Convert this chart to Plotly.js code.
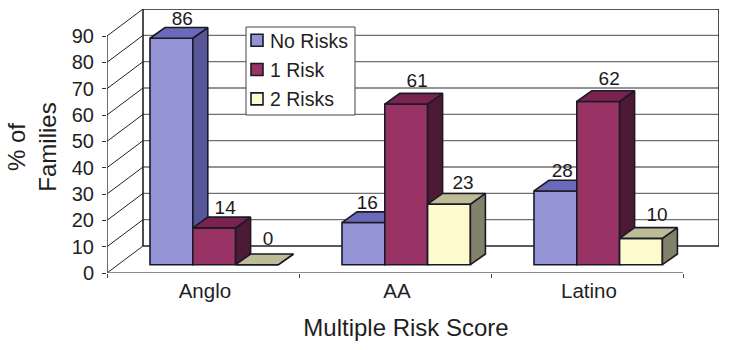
<!DOCTYPE html>
<html><head><meta charset="utf-8">
<script src="https://cdn.plot.ly/plotly-3.0.1.min.js"></script>
<style>html,body{margin:0;padding:0;background:#fff}</style></head>
<body><div id="chart" style="width:729px;height:350px"></div>
<script>
const categories = ['Anglo', 'AA', 'Latino'];
const seriesNames = ['No Risks', '1 Risk', '2 Risks'];
const noRisks = [86, 16, 28];
const oneRisk = [14, 61, 62];
const twoRisks = [0, 23, 10];
const yTicks = [0, 10, 20, 30, 40, 50, 60, 70, 80, 90];
const frontColors = ['#9393d6', '#993366', '#fdfbcd'];
const topColors = ['#6a6ab8', '#7a2350', '#bebc96'];
const sideColors = ['#58569a', '#4e1934', '#82826a'];
// pixel nudges for the value labels, by series then category
const labelNudgeX = [[0, -7, -4], [0, 0, 0], [0, 3, 5]];
const labelNudgeY = [[2, 2, 1], [2, -2, -1], [-4, 0, -2]];

const allSeries = [noRisks, oneRisk, twoRisks];
const pxX = 192, pxY = 237 / 90;                 // pixels per axis unit
const XMAX = 598 / pxX, YMAX = 252 / pxY;        // tick/bar axes
const XWALL = 612 / pxX, YWALL = 264 / pxY;      // wall axes
const wallDx = 36 / pxX, wallDy = 27 / pxY;
const barW = 42.8 / pxX, firstBar = 43 / pxX, floorLift = 8.3 / pxY;
const depthX = 15 / pxX, depthY = 10.7 / pxY;
const edge = '#1a1a26';

const traces = [];
function line(xs, ys, color, width, xa, ya) {
  traces.push({type:'scatter', mode:'lines', x:xs, y:ys, xaxis:xa || 'x', yaxis:ya || 'y', line:{color, width}, showlegend:false, hoverinfo:'skip', cliponaxis:false});
}
const n = categories.length;
yTicks.slice(1, -1).forEach(v => line([wallDx, n + wallDx], [v + wallDy, v + wallDy], '#707070', 1.4));
line([wallDx, n + wallDx], [wallDy, wallDy], '#222222', 1.4);
line([wallDx, wallDx, n + wallDx, n + wallDx], [wallDy, 90 + wallDy, 90 + wallDy, wallDy], '#222222', 1.6);
yTicks.forEach(v => line([0, wallDx], [v, v + wallDy], '#222222', 1));
line([0, 0], [0, 90], '#222222', 1.3, 'x2', 'y2');
line([0, n], [0, 0], '#666666', 1.4, 'x2', 'y2');

allSeries.forEach((vals, s) => {
  const xa = 'x' + (s + 3), ya = 'y' + (s + 3);
  const xs = vals.map((_, i) => i + firstBar + s * barW);
  traces.push({type:'bar', name:seriesNames[s], legendgroup:seriesNames[s], x:xs, y:vals,
    base:vals.map(() => floorLift), width:barW, offset:0, xaxis:xa, yaxis:ya,
    marker:{color:frontColors[s], line:{color:edge, width:1.6}}, hoverinfo:'skip'});
  vals.forEach((v, i) => {
    const L = xs[i], R = L + barW, B = floorLift, T = B + v;
    const face = (px, py, c) => traces.push({type:'scatter', mode:'lines', x:px, y:py, fill:'toself', fillcolor:c,
      line:{color:edge, width:1.6}, xaxis:xa, yaxis:ya, showlegend:false, hoverinfo:'skip'});
    face([R, R + depthX, R + depthX, R, R], [B, B + depthY, T + depthY, T, B], sideColors[s]);
    face([L, R, R + depthX, L + depthX, L], [T, T, T + depthY, T + depthY, T], topColors[s]);
  });
});
allSeries.forEach((vals, s) => {
  traces.push({type:'scatter', mode:'text', xaxis:'x5', yaxis:'y5', cliponaxis:false,
    x:vals.map((_, i) => i + firstBar + (s + 0.5) * barW + depthX * 0.73 + labelNudgeX[s][i] / pxX),
    y:vals.map((v, i) => floorLift + v + depthY - labelNudgeY[s][i] / pxY),
    text:vals.map(String), textposition:'top center',
    textfont:{family:'Liberation Sans', size:19, color:'#1a1a1a'}, showlegend:false, hoverinfo:'skip'});
});

const layout = {
  width:729, height:350, margin:{l:107, r:10, t:9, b:77},
  paper_bgcolor:'#fff', plot_bgcolor:'rgba(0,0,0,0)', barmode:'overlay',
  font:{family:'Liberation Sans', color:'#1f1f1f'},
  showlegend:true,
  legend:{x:138 / 612, y:252 / 264, xanchor:'left', yanchor:'top', bgcolor:'rgba(0,0,0,0)', borderwidth:0,
    font:{size:19.5, color:'#1f1f1f'}, traceorder:'grouped', tracegroupgap:1, indentation:-15, itemclick:false, itemdoubleclick:false},
  shapes:[{type:'rect', layer:'above', xref:'paper', yref:'paper', x0:139 / 612, x1:248 / 612, y0:158 / 264, y1:246 / 264,
    fillcolor:'#fff', line:{color:'#444', width:1}}],
  xaxis:{domain:[0, 1], range:[0, XWALL], anchor:'y', visible:false},
  yaxis:{domain:[0, 1], range:[0, YWALL], anchor:'x', visible:false},
  xaxis2:{domain:[0, 598 / 612], anchor:'y2', range:[0, XMAX], showgrid:false, zeroline:false, showline:false,
    tickmode:'array', tickvals:categories.map((_, i) => i + 0.51), ticktext:categories, ticklen:0, ticks:'',
    tickfont:{size:20.5, color:'#1f1f1f'}, ticklabelstandoff:3,
    minor:{tickmode:'array', tickvals:categories.map((_, i) => i).concat(n), ticks:'outside', ticklen:4, tickcolor:'#444', tickwidth:1.2},
    title:{text:'Multiple Risk Score', font:{size:24, color:'#1f1f1f'}, standoff:18}},
  yaxis2:{domain:[0, 252 / 264], anchor:'x2', range:[0, YMAX], showgrid:false, zeroline:false, showline:false,
    tickmode:'array', tickvals:yTicks, ticks:'outside', ticklen:4, tickcolor:'#333', tickwidth:1.2,
    tickfont:{size:20, color:'#1f1f1f'}, ticklabelstandoff:4,
    title:{text:'% of<br>Families', font:{size:24, color:'#1f1f1f'}, standoff:8}}
};
[3, 4, 5].forEach(k => {
  layout['xaxis' + k] = {overlaying:'x2', visible:false, range:[0, XMAX], anchor:'y' + k};
  layout['yaxis' + k] = {overlaying:'y2', visible:false, range:[0, YMAX], anchor:'x' + k};
});
Plotly.newPlot('chart', traces, layout, {displayModeBar:false}).then(() => {
  // swatches sit closer to their labels in the reference, with a dark outline
  document.querySelectorAll('#chart .legend .legendpoints').forEach(g => g.setAttribute('transform', 'translate(7,0)'));
  document.querySelectorAll('#chart .legend .legendpoints path').forEach(p => {
    p.style.stroke = edge; p.style.strokeWidth = '1.6px'; p.style.strokeOpacity = '1';
  });
});
</script></body></html>
